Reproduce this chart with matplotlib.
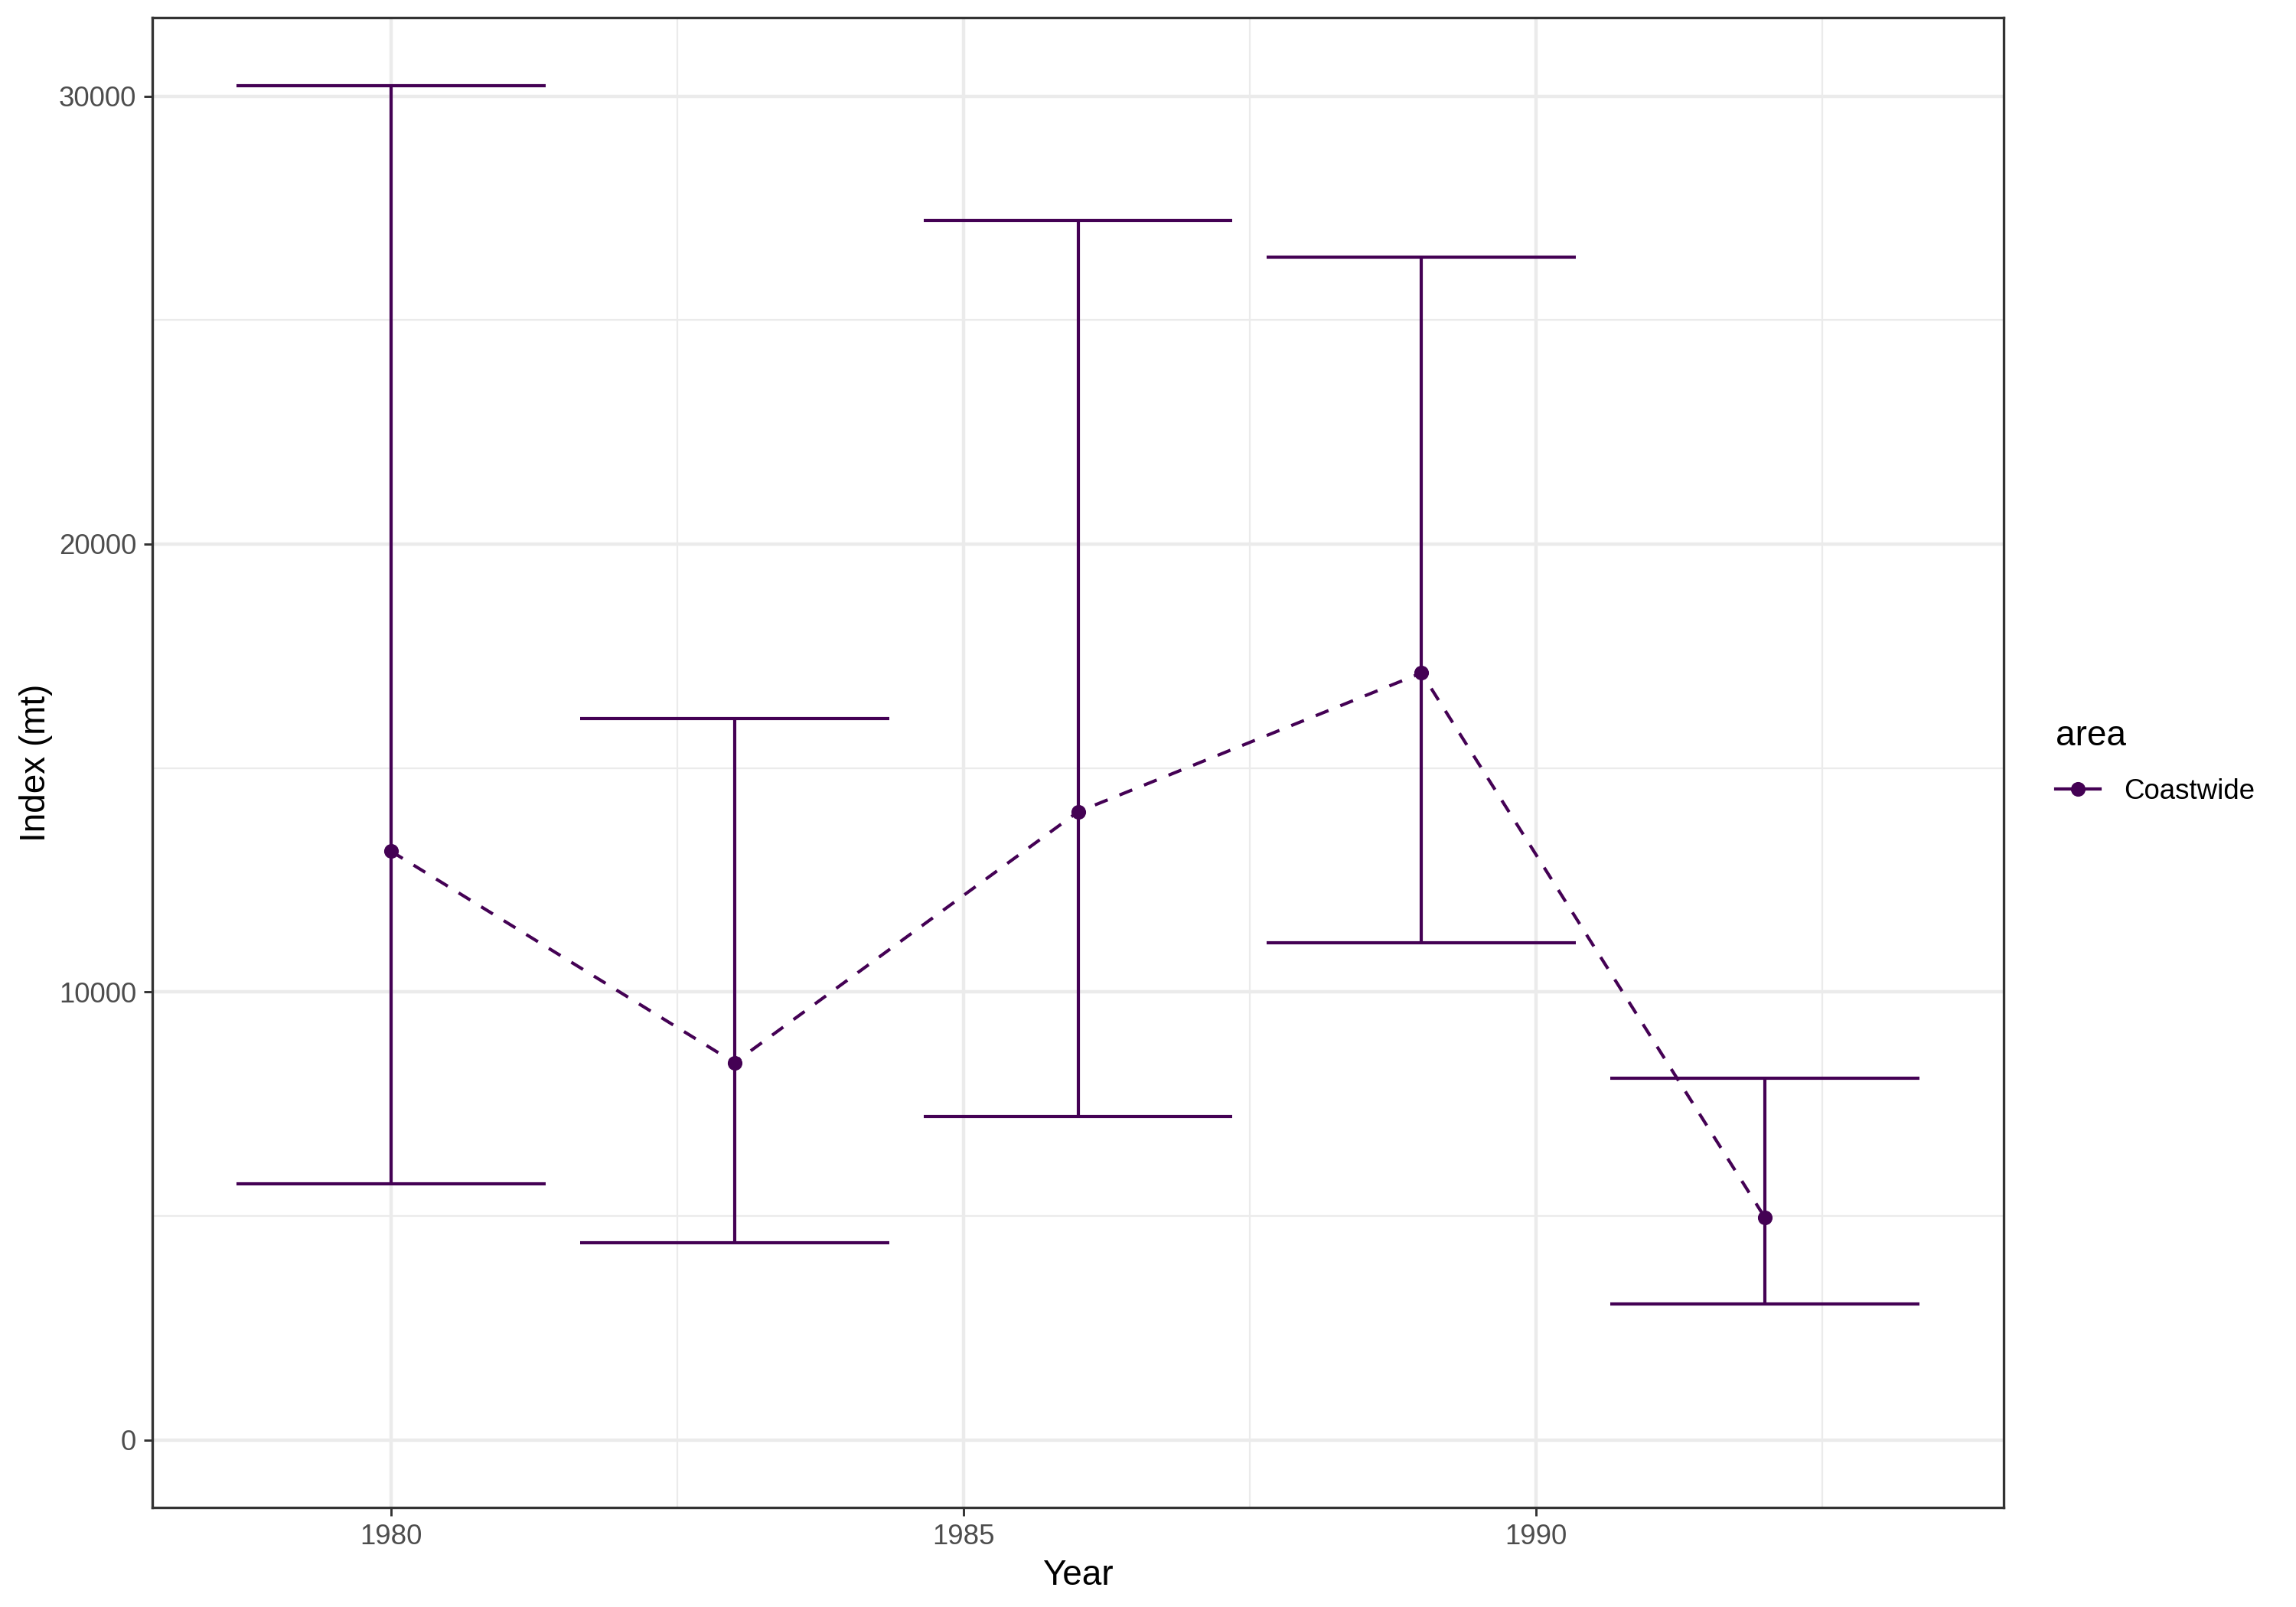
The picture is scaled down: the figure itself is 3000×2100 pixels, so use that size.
import matplotlib
matplotlib.use("Agg")
import matplotlib.pyplot as plt
from matplotlib.lines import Line2D
import numpy as np

plt.rcParams['font.family'] = ['Liberation Sans', 'DejaVu Sans']

years = [1980, 1983, 1986, 1989, 1992]
index_mt = [13140, 8420, 14020, 17120, 4960]
lower = [5710, 4400, 7220, 11100, 3040]
upper = [30240, 16100, 27220, 26410, 8070]
area_label = "Coastwide"
x_ticks = [1980, 1985, 1990]
y_ticks = [0, 10000, 20000, 30000]
x_minor = [1982.5, 1987.5, 1992.5]
y_minor = [5000, 15000, 25000]

col = "#440154"
cap_width = 0.9 * 3  # ggplot errorbar width = 0.9 * resolution

fig = plt.figure(figsize=(10, 7), dpi=300)
ax = fig.add_axes([199/3000, 1 - 1970/2100, (2618-199)/3000, (1970-23)/2100])

yrs = np.array(years, dtype=float)
lo = np.array(lower, dtype=float)
hi = np.array(upper, dtype=float)

# grid
for v in y_ticks:
    ax.axhline(v, color="#EBEBEB", lw=1.07, zorder=0)
for v in x_ticks:
    ax.axvline(v, color="#EBEBEB", lw=1.07, zorder=0)
for v in y_minor:
    ax.axhline(v, color="#EBEBEB", lw=0.53, zorder=0)
for v in x_minor:
    ax.axvline(v, color="#EBEBEB", lw=0.53, zorder=0)

# error bars
ax.vlines(yrs, lo, hi, color=col, lw=1.0, zorder=2)
ax.hlines(lo, yrs - cap_width/2, yrs + cap_width/2, color=col, lw=1.0, zorder=2)
ax.hlines(hi, yrs - cap_width/2, yrs + cap_width/2, color=col, lw=1.0, zorder=2)

# dashed line + points
ax.plot(yrs, index_mt, color=col, lw=1.0, dashes=(4.3, 4.0), zorder=3)
ax.plot(yrs, index_mt, 'o', color=col, ms=4.6, mec=col, mew=0, zorder=4)

# limits with ggplot expansion
xmin, xmax = (yrs - cap_width/2).min(), (yrs + cap_width/2).max()
xr = xmax - xmin
ax.set_xlim(xmin - 0.05*xr, xmax + 0.05*xr)
ymin, ymax = min(0, lo.min()), hi.max()
yr = ymax - ymin
ax.set_ylim(ymin - 0.05*yr, ymax + 0.05*yr)

ax.set_xticks(x_ticks)
ax.set_yticks(y_ticks)
ax.set_xticklabels([str(t) for t in x_ticks])
ax.set_yticklabels([str(t) for t in y_ticks])
ax.tick_params(axis='both', length=2.75, width=0.7, color="#333333",
               labelsize=8.8, labelcolor="#4D4D4D", pad=2.2)
for s in ax.spines.values():
    s.set_color("#333333")
    s.set_linewidth(0.8)
ax.set_facecolor("white")

ax.set_xlabel("Year", fontsize=11, color="black", labelpad=2.75)
ax.set_ylabel("Index (mt)", fontsize=11, color="black", labelpad=1.8)

handle = Line2D([0], [0], color=col, lw=1.0, marker='o', ms=4.6, mew=0)
leg = fig.legend([handle], [area_label], title="area",
                 loc="upper left", bbox_to_anchor=(2686/3000, 1 - 940/2100),
                 frameon=False, fontsize=8.8, title_fontsize=11,
                 handlelength=1.58, handletextpad=0.85, borderpad=0,
                 borderaxespad=0, labelspacing=0.9)
leg._legend_box.align = "left"

fig.savefig("out.png", dpi=300, facecolor="white")
